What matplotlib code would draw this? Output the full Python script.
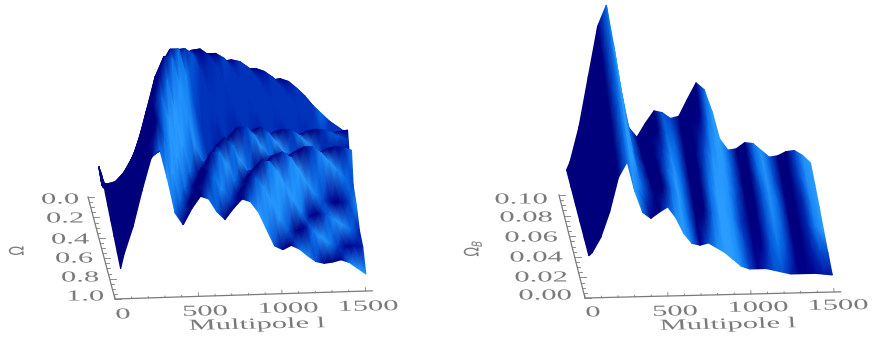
import numpy as np
import matplotlib
matplotlib.use('Agg')
from matplotlib import pyplot as plt
from matplotlib.colors import LinearSegmentedColormap
from matplotlib.patheffects import AbstractPathEffect
from matplotlib.transforms import Affine2D

# multipole samples shared by both surfaces
ell = [30] + list(range(50, 1501, 50))

# left surface: heights, front row (omega = 1) first
omega_rows = [1.0, 0.85, 0.7, 0.55, 0.4, 0.3, 0.22, 0.16, 0.12, 0.09, 0.065, 0.045, 0.03, 0.015, 0.0]
omega_height = [
    [30, 45, 72, 108, 140, 148, 118, 84, 72, 88, 100, 97, 84, 76, 87, 96, 93, 82, 65, 48, 44, 48, 44, 37, 31, 29, 30, 32, 29, 23, 17],
    [31, 42, 65, 98, 135, 159, 142, 108, 80, 78, 95, 107, 104, 90, 78, 86, 98, 102, 92, 76, 58, 46, 47, 50, 47, 40, 33, 30, 30, 30, 29],
    [32, 38, 56, 85, 123, 160, 170, 145, 108, 78, 80, 98, 113, 113, 100, 83, 83, 94, 103, 102, 92, 77, 62, 49, 46, 48, 47, 42, 36, 31, 30],
    [33, 36, 50, 76, 108, 148, 175, 172, 140, 105, 78, 76, 88, 104, 112, 104, 88, 76, 78, 86, 93, 96, 90, 78, 64, 52, 46, 44, 44, 44, 40],
    [34, 35, 44, 62, 90, 125, 160, 180, 178, 150, 118, 88, 72, 73, 85, 98, 107, 107, 98, 85, 73, 73, 76, 81, 85, 85, 79, 70, 61, 52, 45],
    [35, 35, 40, 54, 75, 102, 132, 162, 177, 177, 150, 122, 96, 76, 66, 67, 73, 84, 93, 96, 90, 80, 70, 63, 63, 65, 68, 72, 74, 73, 70],
    [36, 36, 38, 47, 62, 82, 105, 130, 152, 168, 169, 163, 145, 122, 100, 80, 65, 61, 64, 70, 78, 83, 85, 84, 78, 70, 60, 53, 53, 55, 57],
    [36, 26, 28, 34, 52, 68, 85, 105, 125, 143, 156, 161, 162, 156, 145, 127, 107, 88, 70, 58, 56, 58, 62, 67, 72, 76, 78, 77, 74, 70, 65],
    [36, 22, 25, 30, 43, 58, 70, 85, 100, 115, 128, 140, 148, 153, 153, 148, 138, 125, 110, 94, 78, 63, 54, 52, 54, 58, 62, 66, 69, 71, 72],
    [35, 19, 21, 27, 38, 49, 58, 68, 80, 92, 104, 115, 124, 132, 138, 142, 143, 141, 135, 125, 112, 98, 84, 72, 61, 53, 50, 50, 51, 53, 55],
    [34, 17, 19, 24, 33, 43, 49, 56, 64, 72, 81, 90, 99, 107, 114, 120, 125, 129, 131, 131, 128, 122, 113, 102, 90, 78, 67, 58, 50, 45, 42],
    [33, 16, 17, 20, 28, 36, 42, 47, 51, 55, 61, 67, 73, 79, 85, 90, 96, 101, 106, 110, 114, 117, 118, 115, 108, 100, 90, 82, 74, 68, 62],
    [32, 15, 15, 17, 22, 30, 37, 44, 49, 50, 50, 50, 51, 54, 56, 59, 61, 63, 65, 67, 69, 70, 71, 72, 72, 72, 71, 69, 67, 64, 60],
    [33, 14, 14, 16, 19, 24, 30, 42, 48, 48, 47, 46, 46, 45, 45, 45, 45, 46, 47, 47, 48, 48, 49, 49, 49, 49, 49, 48, 48, 47, 46],
    [31, 14, 11, 13, 16, 18, 26, 41, 48, 48, 46, 44, 42, 40, 38, 37, 36, 36, 36, 36, 36, 36, 37, 37, 37, 37, 37, 36, 36, 36, 35],
]

# right surface, front row (omega_b = 0) first
omega_b_rows = [0.0, 0.02, 0.04, 0.06, 0.08, 0.10]
omega_b_height = [
    [42, 45, 60, 85, 120, 135, 105, 84, 78, 84, 89, 78, 62, 52, 50, 52, 47, 42, 35, 28, 25, 25, 25, 23, 21, 19, 19, 19, 19, 18, 17],
    [39, 43, 62, 92, 130, 146, 115, 86, 73, 80, 88, 85, 72, 58, 56, 63, 61, 52, 42, 32, 30, 29, 30, 29, 26, 23, 22, 23, 23, 21, 19],
    [36, 41, 64, 99, 141, 157, 125, 90, 69, 74, 86, 86, 78, 64, 62, 74, 74, 63, 49, 37, 33, 34, 35, 35, 31, 26, 25, 27, 28, 25, 21],
    [33, 39, 66, 106, 151, 168, 135, 95, 66, 68, 82, 86, 78, 68, 67, 80, 86, 76, 60, 43, 36, 38, 41, 41, 36, 30, 29, 31, 32, 29, 24],
    [30, 37, 68, 113, 161, 179, 143, 100, 64, 62, 77, 85, 80, 72, 73, 89, 99, 90, 71, 48, 39, 41, 46, 45, 38, 32, 32, 36, 37, 32, 26],
    [27, 35, 70, 120, 170, 191, 150, 105, 68, 58, 72, 84, 82, 76, 78, 95, 111, 104, 82, 54, 43, 44, 50, 49, 42, 35, 36, 40, 41, 36, 28],
]

ell_ticks = [0, 500, 1000, 1500]
omega_ticks = [0.0, 0.2, 0.4, 0.6, 0.8, 1.0]
omega_b_ticks = [0.10, 0.08, 0.06, 0.04, 0.02, 0.00]

blues = LinearSegmentedColormap.from_list(
    'blues', [(0, '#00007d'), (0.3, '#00008c'), (0.55, '#0038c0'), (0.8, '#0a78f0'), (1, '#2a9cff')])

GREY = '#7a7a7a'


class Stretch(AbstractPathEffect):
    # the original labels are very wide, widen the glyphs around the anchor
    def __init__(self, sx, cx, cy):
        super().__init__()
        self.t = Affine2D().translate(-cx, -cy).scale(sx, 1).translate(cx, cy)

    def draw_path(self, renderer, gc, tpath, affine, rgbFace=None):
        renderer.draw_path(gc, tpath, affine + self.t, rgbFace)


def label(ax, x, y, s, angle=0, size=11, sx=2.0):
    t = ax.text(x, y, s, ha='center', va='center', rotation=angle, rotation_mode='anchor',
                fontsize=size, family='Liberation Serif', color=GREY)
    t.set_path_effects([Stretch(sx, x, 339 - y)])


def smooth(C):
    out = C.copy()
    out[:, 1:-1] = 0.25 * C[:, :-2] + 0.5 * C[:, 1:-1] + 0.25 * C[:, 2:]
    return out


def surface(ax, depth_frac, heights, p):
    # back row first so nearer rows paint over it
    H = np.array(heights, dtype=float)[::-1]
    depth = np.array(depth_frac)[::-1]
    L, D = np.meshgrid(np.array(ell, dtype=float), depth)
    X = p['x0'] + p['lx'] * L + p['sdx'] * D + 0.02 * H
    Y = p['y0'] + p['ly'] * L + p['sdy'] * D - H
    # lambert shading, light from the right and towards the viewer
    dhdx = np.gradient(H, np.array(ell) * p['lx'], axis=1)
    dhdz = np.gradient(H, depth * abs(p['sdy']), axis=0)
    nrm = np.sqrt(dhdx ** 2 + dhdz ** 2 + 1)
    lit = (-dhdx * 0.8 + dhdz * p['kz'] + 0.5) / nrm
    C = np.clip((lit - p['lo']) * p['gain'], 0, 1)
    C = np.where(dhdx < -0.3, np.maximum(C, p['floor']), C)
    C = np.minimum(C, smooth(C))
    C[:, :2] = 0  # the low l edge stays navy
    ax.pcolormesh(X, Y, C, shading='gouraud', cmap=blues, vmin=0, vmax=1)


def axes_lines(ax, p):
    ex = p['ax0'] + p['lx'] * p['lmax']
    ey = p['ay0'] + p['ly'] * p['lmax']
    ax.plot([p['ax0'], ex], [p['ay0'], ey], color=GREY, lw=0.9)
    ax.plot([p['ax0'], p['ax0'] + p['adx']], [p['ay0'], p['ay0'] + p['ady']], color=GREY, lw=0.9)
    for v in np.arange(0, 1501, 100):
        ln = 3.5 if v % 500 == 0 else 1.5
        x = p['ax0'] + p['lx'] * v
        y = p['ay0'] + p['ly'] * v
        ax.plot([x, x - 0.2], [y, y - ln], color=GREY, lw=0.6)
    for f in np.arange(0, 1.001, 0.05):
        ln = 6 if round(f * 20) % 4 == 0 else 3
        x = p['ax0'] + p['adx'] * f
        y = p['ay0'] + p['ady'] * f
        ax.plot([x, x + ln], [y, y], color=GREY, lw=0.6)


left = dict(x0=115, y0=299, lx=0.167, ly=-0.0053, sdx=-22, sdy=-101, ax0=115, ay0=299,
            adx=-27, ady=-102, lmax=1540, lo=0.42, gain=2.4, kz=0.15, floor=0.52)
right = dict(x0=583, y0=298, lx=0.166, ly=-0.004, sdx=-22, sdy=-101, ax0=585, ay0=298,
             adx=-26, ady=-103, lmax=1540, lo=0.47, gain=2.8, kz=0.3, floor=0.0)

fig = plt.figure(figsize=(8.72, 3.39), dpi=100)
ax = fig.add_axes([0, 0, 1, 1])
ax.set_xlim(0, 872)
ax.set_ylim(339, 0)
ax.axis('off')

# left panel: omega = 1 nearest, omega = 0 at the back
surface(ax, 1.0 - np.array(omega_rows), omega_height, left)
axes_lines(ax, left)
for v, x, y in zip(omega_ticks, [60, 65, 70, 74, 80, 85], [200, 219, 240, 259, 278, 297]):
    label(ax, x, y, f'{v:.1f}')
for v, x, y in zip(ell_ticks, [123, 205, 288, 368], [315, 312, 309, 307]):
    label(ax, x, y, str(v), angle=1.5)
label(ax, 257, 325, 'Multipole l', angle=2.2)
label(ax, 18, 250, r'$\Omega$', angle=90, size=9, sx=1.6)

# right panel: omega_b = 0 nearest
surface(ax, np.array(omega_b_rows) / 0.10, omega_b_height, right)
axes_lines(ax, right)
for v, x, y in zip(omega_b_ticks, [521, 526, 531, 536, 541, 545], [200, 218, 238, 258, 278, 296]):
    label(ax, x, y, f'{v:.2f}')
for v, x, y in zip(ell_ticks, [593, 675, 758, 838], [313, 312, 308, 306]):
    label(ax, x, y, str(v), angle=1.5)
label(ax, 728, 325, 'Multipole l', angle=2.2)
label(ax, 473, 248, r'$\Omega_B$', angle=90, size=9, sx=1.6)

fig.savefig('out.png', dpi=100)
